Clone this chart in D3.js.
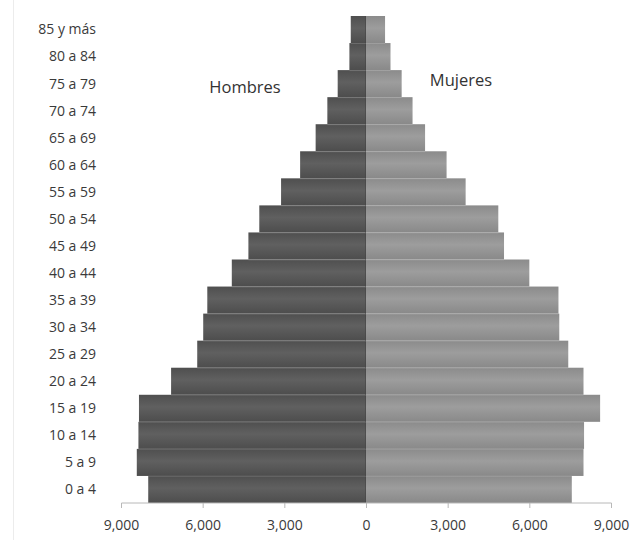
<!DOCTYPE html>
<html>
<head>
<meta charset="utf-8">
<script src="https://cdn.jsdelivr.net/npm/d3@7"></script>
<style>
  html, body { margin: 0; padding: 0; background: #fff; }
  svg { display: block; font-family: "Open Sans", "Liberation Sans", sans-serif; }
</style>
</head>
<body>
<svg id="chart" width="634" height="540"></svg>
<script>
// Age groups, youngest first
const ageGroups = ["0 a 4", "5 a 9", "10 a 14", "15 a 19", "20 a 24", "25 a 29", "30 a 34",
  "35 a 39", "40 a 44", "45 a 49", "50 a 54", "55 a 59", "60 a 64", "65 a 69",
  "70 a 74", "75 a 79", "80 a 84", "85 y más"];
// Population by sex for each age group
const hombres = [8000, 8420, 8360, 8340, 7160, 6200, 5980, 5830, 4930, 4320, 3920, 3120, 2420, 1850, 1420, 1040, 610, 560];
const mujeres = [7560, 7990, 8010, 8600, 7990, 7430, 7100, 7070, 6000, 5070, 4860, 3660, 2960, 2170, 1710, 1310, 900, 700];
const xTicks = [-9000, -6000, -3000, 0, 3000, 6000, 9000];

const svg = d3.select("#chart");

const x = d3.scaleLinear().domain([-9000, 9000]).range([121, 611]);
const y = d3.scaleBand().domain(ageGroups.slice().reverse()).range([16, 503]).padding(0);

// Vertical shading inside each bar
const defs = svg.append("defs");
function shade(id, stops) {
  const g = defs.append("linearGradient").attr("id", id)
    .attr("x1", 0).attr("y1", 0).attr("x2", 0).attr("y2", 1);
  stops.forEach(([o, c]) => g.append("stop").attr("offset", o).attr("stop-color", c));
}
shade("gH", [[0, "#4f4f4f"], [0.45, "#606060"], [1, "#4d4d4d"]]);
shade("gM", [[0, "#8b8b8b"], [0.45, "#9d9d9d"], [1, "#898989"]]);

// faint frame edge on the left
svg.append("line").attr("x1", 13.5).attr("x2", 13.5).attr("y1", 0).attr("y2", 540)
  .attr("stroke", "#ececec").attr("stroke-width", 1);

// Bars: men to the left of zero, women to the right
svg.append("g").selectAll("rect").data(ageGroups).join("rect")
  .attr("x", (d, i) => x(-hombres[i]))
  .attr("y", d => y(d))
  .attr("width", (d, i) => x(0) - x(-hombres[i]))
  .attr("height", y.bandwidth())
  .attr("fill", "url(#gH)");

svg.append("g").selectAll("rect").data(ageGroups).join("rect")
  .attr("x", x(0))
  .attr("y", d => y(d))
  .attr("width", (d, i) => x(mujeres[i]) - x(0))
  .attr("height", y.bandwidth())
  .attr("fill", "url(#gM)");

// Darker seam along the zero line
svg.append("line").attr("x1", x(0) - 0.5).attr("x2", x(0) - 0.5)
  .attr("y1", 16).attr("y2", 503).attr("stroke", "#444").attr("stroke-opacity", 0.6);

// Thin separators between stacked bars
svg.append("g").selectAll("line").data(ageGroups.slice(0, -1)).join("line")
  .attr("x1", (d, i) => x(-Math.min(hombres[i], hombres[i + 1])))
  .attr("x2", (d, i) => x(Math.min(mujeres[i], mujeres[i + 1])))
  .attr("y1", d => y(d) + 0.5).attr("y2", d => y(d) + 0.5)
  .attr("stroke", "#ffffff").attr("stroke-opacity", 0.12);

// Horizontal value axis
const xAxis = d3.axisBottom(x).tickValues(xTicks)
  .tickFormat(d => d3.format(",")(Math.abs(d))).tickSize(5).tickPadding(12);
const ax = svg.append("g").attr("transform", "translate(0,503)").call(xAxis);
ax.select(".domain").attr("stroke", "#b8b8b8").attr("d", "M121.5,0H611.5");
ax.selectAll(".tick line").attr("stroke", "#b8b8b8");
ax.selectAll(".tick text").attr("fill", "#3a3a3a").style("font-size", "14px")
  .style("font-family", "'Open Sans', sans-serif");

// Age group labels
svg.append("g").selectAll("text").data(ageGroups).join("text")
  .attr("x", 96)
  .attr("y", d => y(d) + y.bandwidth() / 2)
  .attr("dy", "0.35em")
  .attr("text-anchor", "end")
  .attr("fill", "#3a3a3a")
  .style("font-size", "14px")
  .text(d => d);

// Series labels
svg.append("text").attr("x", 245).attr("y", 87).attr("dy", "0.35em")
  .attr("text-anchor", "middle").attr("fill", "#333").style("font-size", "16.5px").text("Hombres");
svg.append("text").attr("x", 461).attr("y", 80).attr("dy", "0.35em")
  .attr("text-anchor", "middle").attr("fill", "#333").style("font-size", "16.5px").text("Mujeres");
</script>
</body>
</html>
